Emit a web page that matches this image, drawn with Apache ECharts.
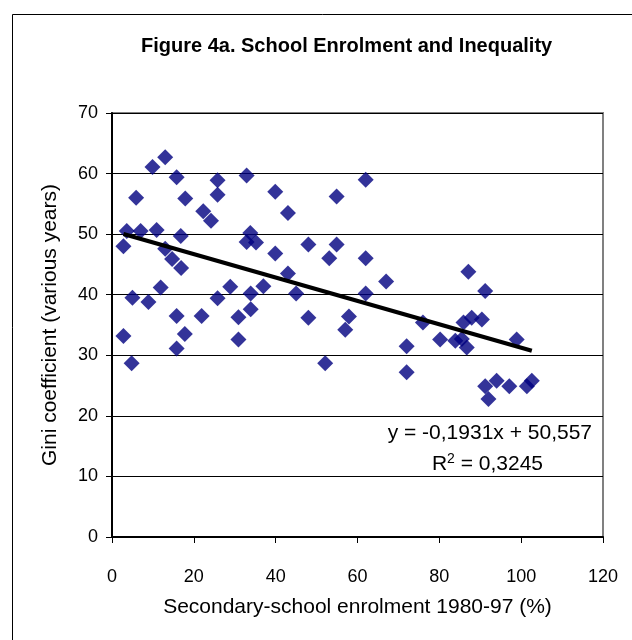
<!DOCTYPE html>
<html><head><meta charset="utf-8">
<script src="https://cdn.jsdelivr.net/npm/echarts@6/dist/echarts.min.js"></script>
<style>html,body{margin:0;padding:0;background:#fff}#c{width:632px;height:640px}</style>
</head><body><div id="c"></div>
<script>
const enrolment = [13.0,9.9,15.8,25.8,32.9,39.9,5.9,17.9,25.8,22.3,24.2,3.6,7.0,10.9,16.8,33.8,32.9,35.2,2.8,39.9,13.0,14.7,16.9,5.0,8.9,11.9,25.8,28.9,33.9,37.0,33.9,15.8,21.9,30.9,2.8,17.8,15.8,30.9,4.8,62.0,54.9,43.0,48.0,54.9,53.1,62.0,43.0,67.0,45.0,62.0,48.0,57.9,57.0,76.0,52.1,72.0,72.0,80.2,83.9,85.9,87.9,90.4,85.5,86.7,98.9,87.1,91.2,91.2,94.0,92.0,97.1,101.4,102.6];
const gini = [62.7,61.1,59.4,58.9,59.7,57.0,56.0,55.9,56.5,53.8,52.2,50.5,50.5,50.7,49.7,50.2,48.7,48.6,48.0,46.8,47.6,45.9,44.4,39.5,38.8,41.2,39.4,41.3,40.2,41.4,37.6,36.5,36.5,36.3,33.2,33.5,31.1,32.6,28.7,59.0,56.2,53.5,48.3,48.3,46.0,46.0,43.5,42.2,40.2,40.2,36.2,36.4,34.2,35.4,28.7,31.5,27.2,32.6,32.4,35.4,36.2,35.9,32.7,31.3,32.6,43.8,40.6,24.9,25.8,22.8,24.9,24.9,25.8];
const trendSlope = -0.1931, trendIntercept = 50.557;
const trendX = [2.8, 102.6];
const xTicks = [0,20,40,60,80,100,120];
const yTicks = [0,10,20,30,40,50,60,70];

const points = enrolment.map((x,i)=>[x,gini[i]]);
const trend = trendX.map(x=>[x, trendSlope*x + trendIntercept]);
const font = '"Liberation Sans", Arial, sans-serif';

const chart = echarts.init(document.getElementById('c'), null, {renderer:'canvas'});
chart.setOption({
  backgroundColor:'#fff',
  animation:false,
  title:{text:'Figure 4a. School Enrolment and Inequality', left:136, top:31,
    textStyle:{fontFamily:font, fontWeight:'bold', fontSize:20, color:'#000'}},
  grid:{left:112, right:29, top:113, bottom:103, show:true, borderColor:'#808080', borderWidth:2, backgroundColor:'#fff'},
  xAxis:{type:'value', min:0, max:120, interval:20,
    name:'Secondary-school enrolment 1980-97 (%)', nameLocation:'middle', nameGap:60,
    nameTextStyle:{fontFamily:font, fontSize:21, color:'#000'},
    axisLine:{show:true, onZero:false, lineStyle:{color:'#000', width:2}},
    axisTick:{show:true, inside:false, length:6, lineStyle:{color:'#000'}},
    axisLabel:{fontFamily:font, fontSize:18, color:'#000', margin:31},
    splitLine:{show:false}},
  yAxis:{type:'value', min:0, max:70, interval:10,
    name:'Gini coefficient (various years)', nameLocation:'middle', nameGap:51,
    nameTextStyle:{fontFamily:font, fontSize:21, color:'#000'},
    axisLine:{show:true, lineStyle:{color:'#000', width:2}},
    axisTick:{show:true, inside:false, length:6, lineStyle:{color:'#000'}},
    axisLabel:{fontFamily:font, fontSize:18, color:'#000', margin:14},
    splitLine:{show:true, lineStyle:{color:'#000', width:1}}},
  graphic:[
    {type:'rect', left:10, top:12, shape:{width:621, height:640}, style:{fill:'none', stroke:'#000', lineWidth:1}, silent:true, z:-10},
    {type:'text', right:40, top:423, style:{text:'y = -0,1931x + 50,557', font:'21px '+font, fill:'#000', align:'right'}},
    {type:'text', right:89, top:452, style:{rich:{a:{fontFamily:font, fontSize:21, fill:'#000'}, s:{fontFamily:font, fontSize:14, fill:'#000', verticalAlign:'top', padding:[0,0,10,0]}}, text:'{a|R}{s|2}{a| = 0,3245}'}}
  ],
  series:[
    {type:'scatter', data:points, symbol:'diamond', symbolSize:16, itemStyle:{color:'#000080'}, z:3},
    {type:'line', data:trend, showSymbol:false, symbol:'none', lineStyle:{color:'#000', width:4}, z:4}
  ]
});
</script></body></html>
